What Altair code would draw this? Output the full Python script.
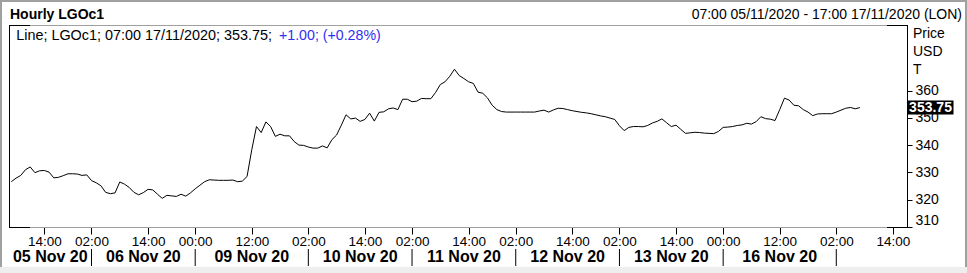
import altair as alt
import pandas as pd

# ---- data ----
prices = [
    326.6, 327.9, 328.9, 331.0, 332.0, 329.9, 330.6, 330.7, 330.1, 328.0,
    328.2, 328.8, 329.5, 329.5, 329.4, 328.9, 329.1, 327.0, 326.2, 325.1,
    322.7, 322.2, 322.5, 326.5, 325.7, 324.5, 322.7, 321.8, 322.6, 323.8,
    323.6, 322.0, 320.5, 321.6, 321.4, 321.2, 322.0, 321.3, 322.5, 324.0,
    325.3, 326.6, 327.3, 327.2, 327.1, 327.1, 327.1, 327.2, 326.6, 326.8,
    328.5, 338.3, 346.8, 344.6, 348.5, 346.8, 343.2, 344.0, 343.4, 343.4,
    341.3, 340.0, 339.9, 339.3, 338.9, 338.9, 339.7, 339.0, 342.0, 343.7,
    347.3, 351.1, 349.6, 349.9, 348.7, 349.4, 351.7, 348.8, 352.0, 352.2,
    353.3, 353.6, 353.0, 356.8, 356.8, 355.9, 356.1, 357.1, 357.0, 357.0,
    359.3, 362.2, 363.2, 365.2, 367.8, 365.5, 364.4, 363.2, 362.6, 359.4,
    359.0, 357.3, 354.6, 353.0, 352.3, 352.1, 352.1, 352.1, 352.1, 352.1,
    352.1, 352.1, 352.5, 352.8, 352.1, 352.9, 353.5, 353.4, 353.0, 352.6,
    352.3, 352.0, 351.8, 351.5, 351.1, 350.7, 350.4, 349.9, 349.4, 347.1,
    345.3, 346.5, 346.8, 346.8, 346.7, 347.2, 348.1, 348.7, 349.6, 348.2,
    346.8, 347.3, 345.8, 344.3, 344.5, 344.7, 344.6, 344.4, 344.3, 344.2,
    345.0, 346.5, 346.6, 346.8, 347.2, 347.4, 348.0, 347.7, 348.6, 350.4,
    349.7, 349.5, 349.0, 353.0, 357.2, 356.5, 354.6, 354.4, 353.0, 352.1,
    350.8, 351.4, 351.5, 351.5, 351.5, 352.1, 352.8, 353.5, 353.8, 353.3, 353.75,
]
bar_index = list(range(len(prices)))

tick_index = [7, 17, 29, 39, 51, 63, 75, 85, 97, 107, 119, 129, 141, 151, 163, 175, 187]
tick_labels = ["14:00", "02:00", "14:00", "00:00", "12:00", "02:00", "14:00", "02:00",
               "14:00", "02:00", "14:00", "02:00", "14:00", "00:00", "12:00", "02:00", "14:00"]
sep_index = [17, 39, 63, 85, 107, 129, 151, 175]
day_labels = ["05 Nov 20", "06 Nov 20", "09 Nov 20", "10 Nov 20",
              "11 Nov 20", "12 Nov 20", "13 Nov 20", "16 Nov 20"]
day_center = [8.25, 28, 51, 74, 96, 118, 140, 163]
y_ticks = [310, 320, 330, 340, 350, 360]
x_domain = [-0.5, 190]
y_domain = [310, 384]

title_text = "Hourly LGOc1"
range_text = "07:00 05/11/2020 - 17:00 17/11/2020 (LON)"
legend_black = "Line; LGOc1; 07:00 17/11/2020; 353.75; "
legend_blue = "+1.00; (+0.28%)"
unit_lines = ["Price", "USD", "T"]
last_price = 353.75

# ---- layout ----
W, H = 898, 202
FONT = "Liberation Sans"
GRAY = "#a0a0a0"

xs = alt.Scale(domain=x_domain, nice=False, zero=False)
ys = alt.Scale(domain=y_domain, nice=False, zero=False)

df = pd.DataFrame({"i": bar_index, "p": prices})
one = alt.Data(values=[{}])

arr_idx = "[" + ",".join(str(v) for v in tick_index) + "]"
arr_lab = "[" + ",".join("'" + s + "'" for s in tick_labels) + "]"
label_expr = f"{arr_lab}[indexof({arr_idx}, datum.value)]"

x_axis = alt.Axis(
    values=tick_index, labelExpr=label_expr, title=None, grid=False, domain=False,
    tickColor="black", tickSize=7, labelPadding=0, labelFont=FONT, labelFontSize=13.5,
    labelColor="black", labelOverlap=False, labelBound=False)
y_axis = alt.Axis(
    orient="right", values=y_ticks, title=None, grid=False, domain=False,
    tickColor="black", tickSize=5, labelPadding=3, labelFont=FONT, labelFontSize=14,
    labelColor="black", labelFlush=True, labelOverlap=False, format="d")

line = alt.Chart(df).mark_line(color="black", strokeWidth=1).encode(
    x=alt.X("i:Q", scale=xs, axis=x_axis),
    y=alt.Y("p:Q", scale=ys, axis=y_axis),
)

def rule(x, x2, y, y2, color):
    return alt.Chart(one).mark_rule(color=color, strokeWidth=1).encode(
        x=alt.value(x), x2=alt.value(x2), y=alt.value(y), y2=alt.value(y2))

def rect(x, x2, y, y2, color):
    return alt.Chart(one).mark_rect(color=color).encode(
        x=alt.value(x), x2=alt.value(x2), y=alt.value(y), y2=alt.value(y2))

frame = [
    rule(0, W, 0.5, 0.5, GRAY),
    rule(0, W, H + 0.5, H + 0.5, GRAY),
    rule(0, 21, 0.5, 0.5, "black"),
    rule(W - 20, W, 0.5, 0.5, "black"),
    rule(0, 21, H + 0.5, H + 0.5, "black"),
    rule(W - 20, W, H + 0.5, H + 0.5, "black"),
    rule(0.5, 0.5, 0, H + 1, "black"),
    rule(W + 0.5, W + 0.5, 0, H + 1, "black"),
]
outer = [
    rect(-9, -7, -25, 248, GRAY),
    rect(-9, 958, -25, -23, GRAY),
    rect(956, 958, -25, 248, GRAY),
    rect(-9, 958, 242, 248, "#eeeeee"),
]

def text(s, x, y, size=14, weight="normal", align="left", baseline="alphabetic", color="black"):
    return alt.Chart(one).mark_text(
        font=FONT, fontSize=size, fontWeight=weight, align=align, baseline=baseline, color=color
    ).encode(x=alt.value(x), y=alt.value(y), text=alt.value(s))

texts = [
    text(title_text, 1, -6, size=14, weight="bold"),
    text(range_text, 953, -6.5, size=14, align="right"),
    text(legend_black, 7.2, 15, size=14.4),
    text(legend_blue, 270, 15, size=14.2, color="#3030f0"),
]
for k, u in enumerate(unit_lines):
    texts.append(text(u, 904, 8.8 + 18 * k, size=14, baseline="middle"))

days_df = pd.DataFrame({"c": day_center, "d": day_labels})
days = alt.Chart(days_df).mark_text(
    font=FONT, fontSize=16, fontWeight="bold", baseline="middle", align="center", color="black"
).encode(x=alt.X("c:Q", scale=xs, title=None), y=alt.value(231.5), text="d:N")

seps_df = pd.DataFrame({"s": sep_index})
seps = alt.Chart(seps_df).mark_rule(color="black", strokeWidth=1).encode(
    x=alt.X("s:Q", scale=xs, title=None), y=alt.value(224), y2=alt.value(241))

last_df = pd.DataFrame({"v": [last_price], "t": [f"{last_price:.2f}"]})
last_box = alt.Chart(last_df).mark_rule(color="black", strokeWidth=14, strokeCap="butt").encode(
    x=alt.value(898.5), x2=alt.value(944.5), y=alt.Y("v:Q", scale=ys, title=None))
last_txt = alt.Chart(last_df).mark_text(
    font=FONT, fontSize=14, fontWeight="bold", color="white", align="center", baseline="middle"
).encode(x=alt.value(921.5), y=alt.Y("v:Q", scale=ys, title=None), text="t:N")

chart = alt.layer(
    line, *outer, *frame, days, seps, last_box, last_txt, *texts
).properties(
    width=W, height=H,
    padding={"left": 9, "top": 25, "right": 60, "bottom": 46},
    autosize=alt.AutoSizeParams(type="none"),
    background="white",
).configure_view(strokeWidth=0)

chart.save("out.html", embed_options={"renderer": "svg", "actions": False})
